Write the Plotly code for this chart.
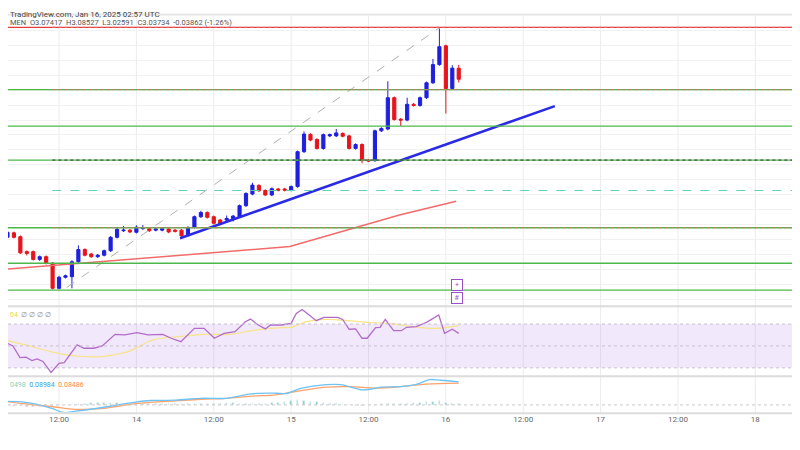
import pandas as pd
import plotly.graph_objects as go

# hourly candles, first one at Jan 13 03:00
t_start = pd.Timestamp("2025-01-13 03:00")
opens = [2.507, 2.507, 2.522, 2.509, 2.459, 2.459, 2.433, 2.442, 2.420, 2.336,
         2.373, 2.375, 2.425, 2.466, 2.451, 2.442, 2.447, 2.462, 2.507, 2.529,
         2.531, 2.524, 2.536, 2.536, 2.531, 2.531, 2.535, 2.531, 2.531, 2.513,
         2.540, 2.576, 2.590, 2.576, 2.565, 2.565, 2.570, 2.576, 2.613, 2.652,
         2.681, 2.664, 2.649, 2.669, 2.669, 2.665, 2.677, 2.794, 2.852, 2.835,
         2.805, 2.847, 2.847, 2.855, 2.847, 2.805, 2.818, 2.766, 2.764, 2.864,
         2.870, 2.975, 2.903, 2.900, 2.953, 2.949, 2.975, 3.025, 3.086, 3.149,
         3.006, 3.074]
closes = [2.515, 2.524, 2.507, 2.455, 2.453, 2.433, 2.442, 2.420, 2.336, 2.373,
          2.378, 2.425, 2.466, 2.447, 2.442, 2.447, 2.462, 2.507, 2.534, 2.531,
          2.525, 2.541, 2.539, 2.529, 2.535, 2.536, 2.525, 2.527, 2.512, 2.540,
          2.576, 2.590, 2.574, 2.554, 2.551, 2.570, 2.578, 2.613, 2.654, 2.682,
          2.663, 2.649, 2.670, 2.665, 2.665, 2.677, 2.794, 2.853, 2.833, 2.805,
          2.851, 2.851, 2.857, 2.846, 2.805, 2.818, 2.764, 2.763, 2.864, 2.872,
          2.975, 2.902, 2.900, 2.953, 2.949, 2.975, 3.025, 3.086, 3.146, 3.006,
          3.074, 3.037]
highs = [2.519, 2.528, 2.526, 2.513, 2.463, 2.463, 2.446, 2.446, 2.424, 2.378,
         2.382, 2.430, 2.480, 2.470, 2.455, 2.451, 2.466, 2.511, 2.538, 2.545,
         2.535, 2.547, 2.548, 2.540, 2.539, 2.540, 2.539, 2.535, 2.535, 2.544,
         2.580, 2.596, 2.594, 2.580, 2.569, 2.580, 2.582, 2.617, 2.658, 2.690,
         2.685, 2.668, 2.674, 2.673, 2.673, 2.681, 2.798, 2.862, 2.856, 2.839,
         2.855, 2.855, 2.870, 2.859, 2.851, 2.822, 2.822, 2.770, 2.868, 2.876,
         3.030, 2.979, 2.907, 2.975, 2.957, 2.979, 3.029, 3.105, 3.207, 3.153,
         3.084, 3.085]
lows = [2.503, 2.503, 2.503, 2.451, 2.446, 2.429, 2.428, 2.416, 2.332, 2.332,
        2.369, 2.336, 2.420, 2.443, 2.438, 2.438, 2.443, 2.458, 2.503, 2.525,
        2.521, 2.520, 2.532, 2.525, 2.527, 2.527, 2.521, 2.523, 2.508, 2.509,
        2.536, 2.572, 2.570, 2.550, 2.547, 2.561, 2.560, 2.572, 2.609, 2.648,
        2.659, 2.645, 2.645, 2.661, 2.661, 2.661, 2.673, 2.790, 2.829, 2.801,
        2.801, 2.843, 2.843, 2.842, 2.801, 2.801, 2.755, 2.759, 2.760, 2.860,
        2.866, 2.898, 2.880, 2.896, 2.945, 2.945, 2.971, 3.021, 3.082, 2.922,
        3.002, 3.026]

# horizontal levels
red_level = 3.211
green_levels = [3.002, 2.880, 2.766, 2.539, 2.420, 2.330]
teal_level = 2.664

# 100 MA (hours from t_start, price)
ma_hours = [-1.5, 15.3, 30.8, 44.8, 61.8, 70.6]
ma_vals = [2.396, 2.425, 2.453, 2.476, 2.582, 2.628]

trend_times = ["2025-01-14 06:46", "2025-01-16 16:54"]
trend_vals = [2.504, 2.947]
fib_times = ["2025-01-13 13:12", "2025-01-15 23:06"]
fib_vals = [2.339, 3.211]

# RSI
rsi_hours = [0, 0.76, 1.85, 2.94, 3.87, 4.8, 5.6, 6.5, 7.75, 9.0, 9.8, 11.8, 12.9,
             14.4, 15.7, 17.7, 19.2, 21.1, 22.8, 25.1, 26.4, 27.9, 30.0, 31.5,
             33.1, 34.6, 36.3, 37.9, 38.7, 39.9, 41.0, 41.8, 43.5, 45.0, 45.8,
             46.7, 47.8, 48.9, 50.1, 52.2, 53.0, 54.0, 55.0, 56.0, 56.8, 58.1,
             58.8, 59.6, 60.9, 62.1, 62.9, 64.4, 66.0, 67.9, 68.8, 70.0, 71.0]
rsi_vals = [49.4, 53.0, 50.0, 39.4, 39.7, 36.7, 38.2, 35.8, 25.8, 34.2, 34.8, 50.9,
            47.9, 47.9, 50.0, 60.6, 60.0, 62.1, 60.0, 60.6, 57.0, 53.9, 66.1, 66.1,
            57.0, 61.5, 63.0, 72.1, 74.5, 69.1, 65.5, 69.1, 69.1, 70.6, 79.7, 83.3,
            78.2, 73.0, 76.1, 76.1, 74.2, 65.2, 65.5, 57.0, 57.0, 66.7, 67.0, 74.2,
            63.9, 63.9, 67.0, 67.6, 71.5, 78.2, 61.5, 65.2, 61.5]
rsi_ma_hours = [0, 3.8, 7.75, 10.1, 15.7, 19.7, 23.6, 27.6, 31.5, 35.5, 39.4, 43.5,
                45.0, 47.4, 50.6, 53.7, 56.8, 60.1, 63.2, 66.4, 68.0, 71.0]
rsi_ma_vals = [56.1, 50.9, 44.8, 41.8, 40.3, 44.8, 55.5, 58.5, 60.6, 60.6, 64.5,
               66.7, 67.0, 72.1, 74.2, 73.0, 71.5, 70.6, 68.2, 66.1, 66.1, 68.5]

# MACD
macd_hours = [0, 3.8, 7.75, 9.7, 11.6, 15.5, 20.6, 23.2, 27.1, 31.0, 34.9, 38.8,
              42.7, 44.2, 46.5, 50.4, 52.7, 54.3, 55.8, 57.4, 58.9, 62.0, 64.4,
              66.5, 68.2, 71.0]
macd_vals = [0.0135, 0.0098, -0.0123, -0.0295, -0.0246, -0.0111, 0.0098, 0.0172,
             0.0185, 0.0258, 0.0258, 0.0431, 0.0455, 0.0443, 0.064, 0.0787, 0.0787,
             0.0689, 0.059, 0.0615, 0.0689, 0.0713, 0.080, 0.0984, 0.096, 0.0898]
signal_hours = [0, 3.8, 7.75, 11.6, 15.5, 20.6, 23.2, 27.1, 31.0, 34.9, 38.8, 42.7,
                46.5, 50.4, 54.3, 58.1, 62.0, 65.9, 71.0]
signal_vals = [0.0148, 0.0037, -0.0062, -0.0172, -0.0148, 0.0037, 0.0098, 0.016,
               0.0221, 0.0258, 0.0344, 0.0394, 0.0554, 0.0689, 0.0713, 0.0652,
               0.0713, 0.0812, 0.0849]
hist_vals = [-0.002, -0.003, -0.004, -0.005, -0.006, -0.007, -0.008, -0.006,
             -0.004, -0.002, -0.001, 0.001, 0.002,
             0.004, 0.006, 0.007, 0.008, 0.007, 0.006, 0.005, 0.004,
             0.004, 0.003, 0.004, 0.003, 0.002, 0.003, 0.004, 0.003, 0.002, 0.002,
             0.003, 0.004, 0.005, 0.004, 0.006, 0.007, 0.005, 0.004, 0.003, 0.004,
             0.005, 0.006, 0.007, 0.012, 0.016, 0.018, 0.016, 0.013, 0.010, 0.008,
             0.005, 0.003, 0.001, -0.002, -0.004, -0.003, -0.001, 0.001, 0.003, 0.004,
             0.004, 0.005, 0.004, 0.006, 0.008, 0.010, 0.012, 0.016, 0.008, 0.004, 0.003]

tick_times = pd.date_range("2025-01-13 12:00", periods=10, freq="12h")
tick_text = ["12:00", "14", "12:00", "15", "12:00", "16", "12:00", "17", "12:00", "18"]

# the page adds an 8px body margin, so the figure is 792x442 and starts a bit later
x_range = [pd.Timestamp("2025-01-13 04:05"), pd.Timestamp("2025-01-18 06:56")]


def hours_to_times(hours):
    return [t_start + pd.Timedelta(hours=h) for h in hours]


times = [t_start + pd.Timedelta(hours=i) for i in range(len(opens))]
BLUE = "#1f1fe0"
RED = "#e8141b"
GRID = "#ececec"

fig = go.Figure()
fig.add_trace(go.Candlestick(x=times, open=opens, high=highs, low=lows, close=closes,
                             increasing=dict(line=dict(color=BLUE, width=1), fillcolor=BLUE),
                             decreasing=dict(line=dict(color=RED, width=1), fillcolor=RED),
                             whiskerwidth=0, showlegend=False, yaxis="y"))
fig.add_trace(go.Scatter(x=hours_to_times(ma_hours), y=ma_vals, mode="lines",
                         line=dict(color="#f26b6b", width=1.5), showlegend=False))
fig.add_trace(go.Scatter(x=fib_times, y=fib_vals, mode="lines",
                         line=dict(color="#b0b0b0", width=1, dash="dash"), showlegend=False))
fig.add_trace(go.Scatter(x=trend_times, y=trend_vals, mode="lines",
                         line=dict(color="#2a2ae6", width=2.5), showlegend=False))

fig.add_trace(go.Scatter(x=hours_to_times(rsi_ma_hours), y=rsi_ma_vals, mode="lines",
                         line=dict(color="#f7e38a", width=1.2, shape="spline"),
                         showlegend=False, yaxis="y2"))
fig.add_trace(go.Scatter(x=hours_to_times(rsi_hours), y=rsi_vals, mode="lines",
                         line=dict(color="#b36bc9", width=1.3), showlegend=False, yaxis="y2"))

fig.add_trace(go.Bar(x=times, y=hist_vals, yaxis="y3", showlegend=False, width=900000,
                     marker_color=["#7fd1c1" if v >= 0 else "#f4a3a3" for v in hist_vals]))
fig.add_trace(go.Scatter(x=hours_to_times(signal_hours), y=signal_vals, mode="lines",
                         line=dict(color="#ffa26b", width=1.3, shape="spline"),
                         showlegend=False, yaxis="y3"))
fig.add_trace(go.Scatter(x=hours_to_times(macd_hours), y=macd_vals, mode="lines",
                         line=dict(color="#6ec3f5", width=1.3, shape="spline"),
                         showlegend=False, yaxis="y3"))

shapes = []
for t in tick_times:
    shapes.append(dict(type="line", xref="x", yref="paper", x0=t, x1=t, y0=0.083, y1=0.986,
                       line=dict(color=GRID, width=1), layer="below"))
# RSI band and levels
shapes.append(dict(type="rect", xref="paper", yref="y2", x0=0, x1=1, y0=30, y1=70,
                   fillcolor="rgba(180,130,235,0.18)", line_width=0, layer="below"))
for lv in [70, 50, 30]:
    shapes.append(dict(type="line", xref="paper", yref="y2", x0=0, x1=1, y0=lv, y1=lv,
                       line=dict(color="#c8c0d0", width=1, dash="dot")))
shapes.append(dict(type="line", xref="paper", yref="y3", x0=0, x1=1, y0=0, y1=0,
                   line=dict(color="#c8c8c8", width=1, dash="dot")))
# pane separators
for yp in [0.986, 0.325, 0.167, 0.083]:
    shapes.append(dict(type="line", xref="paper", yref="paper", x0=0, x1=1, y0=yp, y1=yp,
                       line=dict(color="#dcdcdc", width=2 if yp != 0.986 else 1)))
# price levels
shapes.append(dict(type="line", xref="paper", yref="y", x0=0, x1=1, y0=red_level, y1=red_level,
                   line=dict(color="#e83b3b", width=1.3)))
for lv in green_levels:
    shapes.append(dict(type="line", xref="paper", yref="y", x0=0, x1=1, y0=lv, y1=lv,
                       line=dict(color="#4cb84c", width=1.3)))
dash_start = 0.056
for lv, col in [(red_level, "#e07070"), (3.002, "#e07070"), (2.766, "#333333"),
                (2.539, "#e07070")]:
    shapes.append(dict(type="line", xref="paper", yref="y", x0=dash_start, x1=1, y0=lv, y1=lv,
                       line=dict(color=col, width=1, dash="dot")))
shapes.append(dict(type="line", xref="paper", yref="y", x0=dash_start, x1=1, y0=teal_level,
                   y1=teal_level, line=dict(color="#5fd0b5", width=1, dash="dash")))

annotations = [
    dict(text="TradingView.com, Jan 16, 2025 02:57 UTC", xref="paper", yref="paper",
         x=0, y=1.0, xanchor="left", yanchor="top", showarrow=False,
         font=dict(size=8, color="#444")),
    dict(text="MEN  O3.07417  H3.08527  L3.02591  C3.03734  -0.03862 (-1.26%)",
         xref="paper", yref="paper", x=0, y=0.968, xanchor="left", yanchor="middle",
         showarrow=False, font=dict(size=7.5, color="#555")),
    dict(text="<span style='color:#e8d44a'>04</span>  ∅ ∅ ∅ ∅", xref="paper", yref="paper",
         x=0, y=0.318, xanchor="left", yanchor="top", showarrow=False,
         font=dict(size=7, color="#888")),
    dict(text="<span style='color:#7fd1c1'>0498</span>  <span style='color:#3ba0ea'>0.08984</span>"
              "  <span style='color:#ff8a4c'>0.08486</span>", xref="paper", yref="paper",
         x=0, y=0.16, xanchor="left", yanchor="top", showarrow=False, font=dict(size=7)),
]
for yp, sym in [(0.373, "+"), (0.344, "#")]:
    annotations.append(dict(text=sym, xref="paper", yref="paper", x=0.567, y=yp,
                            showarrow=False, font=dict(size=7, color="#9b4fc9"),
                            bordercolor="#9b4fc9", borderwidth=1, borderpad=1,
                            bgcolor="white", width=8, height=8))

fig.update_layout(
    width=792, height=442, margin=dict(l=0, r=0, t=0, b=0),
    paper_bgcolor="white", plot_bgcolor="white",
    font=dict(family="Roboto", size=8, color="#555"),
    bargap=0,
    xaxis=dict(range=x_range, anchor="y3", rangeslider=dict(visible=False),
               tickvals=tick_times, ticktext=tick_text, showgrid=False,
               showline=False, ticks="", tickfont=dict(size=8, color="#666")),
    yaxis=dict(domain=[0.328, 0.986], range=[2.280, 3.255], dtick=0.05,
               gridcolor="#f1f1f1", showticklabels=False, zeroline=False),
    yaxis2=dict(domain=[0.170, 0.321], range=[23.6, 84.5], showticklabels=False,
                showgrid=False, zeroline=False),
    yaxis3=dict(domain=[0.084, 0.163], range=[-0.031, 0.105], showticklabels=False,
                showgrid=False, zeroline=False),
    shapes=shapes, annotations=annotations,
)
fig.write_html("out.html")
